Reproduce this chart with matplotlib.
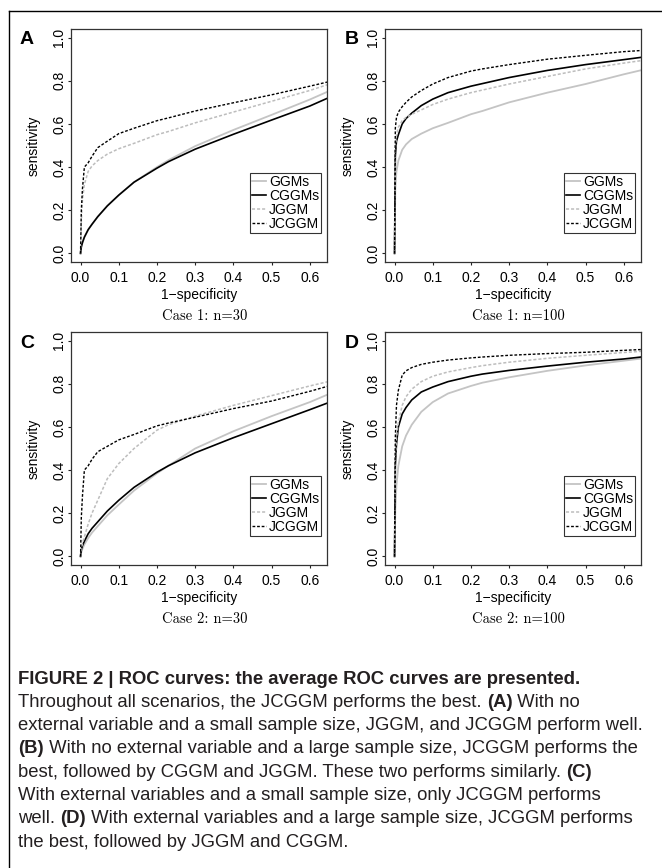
import numpy as np
import matplotlib
matplotlib.use("Agg")
import matplotlib.pyplot as plt
from matplotlib.lines import Line2D
from matplotlib.transforms import IdentityTransform

# Datos (tasa de falsos positivos comun)
fpr = [0, 0.002, 0.005, 0.01, 0.02, 0.03, 0.045, 0.07, 0.1, 0.14, 0.2, 0.23, 0.3, 0.4, 0.5, 0.6, 0.66]

series = ["GGMs", "CGGMs", "JGGM", "JCGGM"]
titles = ["Case 1: n=30", "Case 1: n=100", "Case 2: n=30", "Case 2: n=100"]
letters = ["A", "B", "C", "D"]

# Case 1, n=30
a_ggm = [0, 0.03, 0.05, 0.075, 0.11, 0.135, 0.17, 0.22, 0.27, 0.33, 0.40, 0.432, 0.497, 0.572, 0.642, 0.713, 0.76]
a_cggm = [0, 0.03, 0.05, 0.075, 0.11, 0.135, 0.17, 0.22, 0.27, 0.33, 0.395, 0.425, 0.483, 0.552, 0.618, 0.683, 0.73]
a_jggm = [0, 0.15, 0.25, 0.32, 0.38, 0.405, 0.43, 0.46, 0.485, 0.51, 0.55, 0.565, 0.605, 0.655, 0.705, 0.755, 0.79]
a_jcggm = [0, 0.2, 0.3, 0.4, 0.42, 0.45, 0.49, 0.52, 0.555, 0.58, 0.615, 0.628, 0.66, 0.698, 0.735, 0.775, 0.80]

# Case 1, n=100
b_ggm = [0, 0.30, 0.38, 0.43, 0.48, 0.505, 0.53, 0.555, 0.58, 0.605, 0.645, 0.66, 0.70, 0.745, 0.785, 0.83, 0.855]
b_cggm = [0, 0.45, 0.52, 0.55, 0.60, 0.625, 0.65, 0.685, 0.715, 0.745, 0.775, 0.787, 0.815, 0.848, 0.875, 0.898, 0.912]
b_jggm = [0, 0.48, 0.55, 0.585, 0.615, 0.63, 0.645, 0.665, 0.69, 0.715, 0.745, 0.757, 0.785, 0.82, 0.855, 0.882, 0.897]
b_jcggm = [0, 0.58, 0.63, 0.655, 0.68, 0.70, 0.725, 0.755, 0.785, 0.815, 0.845, 0.855, 0.875, 0.9, 0.918, 0.935, 0.942]

# Case 2, n=30
c_ggm = [0, 0.02, 0.035, 0.055, 0.085, 0.11, 0.14, 0.19, 0.24, 0.305, 0.385, 0.42, 0.50, 0.58, 0.65, 0.715, 0.76]
c_cggm = [0, 0.03, 0.05, 0.07, 0.105, 0.13, 0.16, 0.21, 0.26, 0.32, 0.39, 0.42, 0.48, 0.55, 0.615, 0.68, 0.72]
c_jggm = [0, 0.03, 0.06, 0.09, 0.15, 0.2, 0.26, 0.36, 0.43, 0.5, 0.585, 0.61, 0.65, 0.70, 0.745, 0.79, 0.815]
c_jcggm = [0, 0.18, 0.28, 0.40, 0.42, 0.45, 0.485, 0.51, 0.54, 0.565, 0.605, 0.618, 0.645, 0.685, 0.72, 0.765, 0.795]

# Case 2, n=100
d_ggm = [0, 0.22, 0.33, 0.42, 0.51, 0.56, 0.61, 0.67, 0.715, 0.755, 0.79, 0.805, 0.83, 0.86, 0.885, 0.907, 0.92]
d_cggm = [0, 0.42, 0.52, 0.60, 0.66, 0.69, 0.725, 0.762, 0.785, 0.81, 0.835, 0.845, 0.862, 0.882, 0.9, 0.915, 0.927]
d_jggm = [0, 0.45, 0.55, 0.62, 0.70, 0.74, 0.775, 0.81, 0.835, 0.855, 0.875, 0.884, 0.9, 0.918, 0.932, 0.945, 0.952]
d_jcggm = [0, 0.55, 0.70, 0.77, 0.84, 0.86, 0.875, 0.89, 0.9, 0.91, 0.92, 0.924, 0.932, 0.94, 0.946, 0.955, 0.96]

panels = [
    [a_ggm, a_cggm, a_jggm, a_jcggm],
    [b_ggm, b_cggm, b_jggm, b_jcggm],
    [c_ggm, c_cggm, c_jggm, c_jcggm],
    [d_ggm, d_cggm, d_jggm, d_jcggm],
]

estilos = [
    dict(color="#c4c4c4", lw=1.3, ls="-"),
    dict(color="black", lw=1.2, ls="-"),
    dict(color="#bdbdbd", lw=1.1, ls=(0, (2, 1.3))),
    dict(color="black", lw=1.0, ls=(0, (2, 1.3))),
]

W, H = 662, 868
fig = plt.figure(figsize=(W / 100, H / 100), dpi=100)
sans = ["Liberation Sans", "DejaVu Sans"]

# cajas de los ejes en pixeles: (izq, der, arriba, abajo)
cajas = [(71, 327, 29, 262), (385, 641, 29, 262), (71, 327, 332, 565), (385, 641, 332, 565)]
letra_x = [27, 352, 27, 352]

for i in range(4):
    l, r, t, b = cajas[i]
    ax = fig.add_axes([l / W, 1 - b / H, (r - l) / W, (b - t) / H])
    for k in range(4):
        ax.plot(fpr, panels[i][k], label=series[k], **estilos[k])
    ax.set_xlim(-0.025, 0.645)
    ax.set_ylim(-0.04, 1.04)
    ax.set_xticks([0, 0.1, 0.2, 0.3, 0.4, 0.5, 0.6])
    ax.set_yticks([0, 0.2, 0.4, 0.6, 0.8, 1.0])
    ax.set_xticklabels(["%.1f" % v for v in ax.get_xticks()], family=sans, fontsize=10)
    ax.set_yticklabels(["%.1f" % v for v in ax.get_yticks()], family=sans, fontsize=10,
                       rotation=90, va="center")
    ax.tick_params(length=2.5, width=0.8, color="#222222")
    ax.tick_params(axis="x", pad=4)
    ax.tick_params(axis="y", pad=1)
    for s in ax.spines.values():
        s.set_color("#333333")
        s.set_linewidth(0.9)
    ax.set_xlabel("1\u2212specificity", family=sans, fontsize=10, labelpad=2)
    ax.set_ylabel("sensitivity", family=sans, fontsize=10, labelpad=8)
    ax.annotate(titles[i], xy=(0.5, 0), xycoords="axes fraction", xytext=(4, -39),
                textcoords="offset points", ha="center", va="center",
                family="cmr10", fontsize=10.5)
    leg = ax.legend(loc="lower right", bbox_to_anchor=(0.977, 0.125), frameon=True,
                    fancybox=False, prop={"family": sans, "size": 10},
                    handlelength=1.0, handletextpad=0.2, labelspacing=0.0,
                    borderpad=0.15, borderaxespad=0)
    leg.get_frame().set_edgecolor("black")
    leg.get_frame().set_linewidth(0.8)
    # letra del panel
    fig.text(letra_x[i] / W, 1 - (t + 11) / H, letters[i], family=sans, fontsize=14,
             fontweight="bold", ha="center", va="center")

# marco exterior (lineas superior e izquierda)
fig.add_artist(Line2D([9 / W, 1], [1 - 11 / H, 1 - 11 / H], color="black", lw=1.0))
fig.add_artist(Line2D([9 / W, 9 / W], [0, 1 - 11 / H], color="black", lw=1.0))

# pie de figura con partes en negrita
pie = [
    [("FIGURE 2 | ROC curves: the average ROC curves are presented.", "bold")],
    [("Throughout all scenarios, the JCGGM performs the best. ", "normal"), ("(A)", "bold"),
     (" With no", "normal")],
    [("external variable and a small sample size, JGGM, and JCGGM perform well.", "normal")],
    [("(B)", "bold"), (" With no external variable and a large sample size, JCGGM performs the", "normal")],
    [("best, followed by CGGM and JGGM. These two performs similarly. ", "normal"), ("(C)", "bold")],
    [("With external variables and a small sample size, only JCGGM performs", "normal")],
    [("well. ", "normal"), ("(D)", "bold"),
     (" With external variables and a large sample size, JCGGM performs", "normal")],
    [("the best, followed by JGGM and CGGM.", "normal")],
]
renderer = fig.canvas.get_renderer()
y0 = 679
for j, partes in enumerate(pie):
    x = 18
    y = H - (y0 + j * 23.3)
    for texto, peso in partes:
        t = fig.text(x, y, texto, transform=IdentityTransform(), family=sans,
                     fontsize=13.3, fontweight=peso, color="#231f20", va="center", ha="left")
        x += t.get_window_extent(renderer).width

fig.savefig("out.png", dpi=100)
